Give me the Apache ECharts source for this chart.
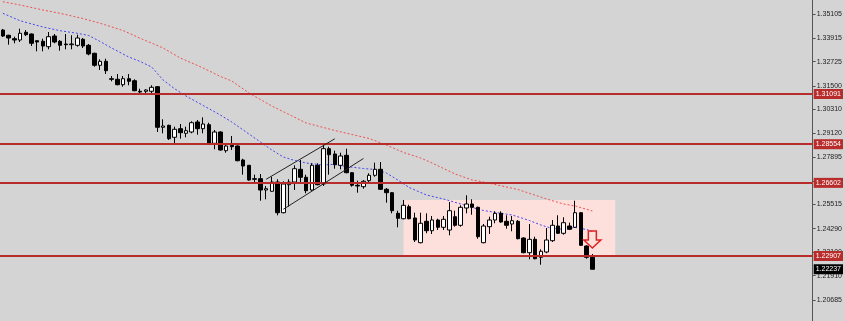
<!DOCTYPE html>
<html>
<head>
<meta charset="utf-8">
<script src="https://cdn.jsdelivr.net/npm/echarts@6/dist/echarts.min.js"></script>
<style>
html,body{margin:0;padding:0;background:#d4d4d4;}
#chart{width:845px;height:321px;}
</style>
</head>
<body>
<div id="chart"></div>
<script>
// ---- data ----
const opens = [1.34324,1.34057,1.33885,1.33819,1.34208,1.34122,1.33784,1.33754,1.33481,1.34021,
1.33754,1.33617,1.33582,1.33551,1.33855,1.33551,1.33147,1.32541,1.32743,1.31864,
1.31834,1.31561,1.31864,1.31763,1.31228,1.31228,1.31228,1.3146,1.29409,1.2951,
1.28904,1.29338,1.29106,1.29171,1.29677,1.29338,1.2954,1.286,1.29171,1.28227,
1.285,1.28464,1.27757,1.27489,1.26812,1.26812,1.26241,1.26176,1.26645,1.25094,
1.26509,1.26645,1.27287,1.26883,1.26241,1.27489,1.26544,1.28328,1.2806,1.27489,
1.27994,1.27115,1.26479,1.26408,1.26711,1.26984,1.27287,1.26277,1.26105,1.25064,
1.24791,1.25398,1.24827,1.23579,1.2466,1.24185,1.24726,1.24357,1.2422,1.24892,
1.24458,1.25332,1.25534,1.25367,1.23579,1.24387,1.24726,1.25064,1.2466,1.24524,
1.2466,1.23816,1.23074,1.2375,1.22841,1.23109,1.2368,1.24422,1.24054,1.24422,
1.24357,1.25094,1.23412,1.22841];
const closes = [1.34021,1.3392,1.33819,1.34158,1.34087,1.33652,1.33718,1.33516,1.33986,1.33718,
1.33551,1.33582,1.33617,1.3392,1.33516,1.33112,1.32541,1.32743,1.32268,1.31834,
1.31561,1.31864,1.31733,1.31258,1.31192,1.31293,1.3143,1.29409,1.29474,1.28833,
1.29308,1.29136,1.29237,1.29641,1.29338,1.29576,1.28565,1.29171,1.28262,1.28464,
1.28429,1.27721,1.27454,1.26746,1.26782,1.26241,1.26307,1.26645,1.25094,1.26544,
1.26645,1.27317,1.26883,1.26206,1.27489,1.26509,1.28328,1.28025,1.27519,1.27959,
1.27115,1.26479,1.26443,1.26681,1.26984,1.27287,1.26277,1.26105,1.25196,1.24812,
1.25468,1.24791,1.23715,1.24559,1.24185,1.24726,1.24357,1.24761,1.25196,1.24458,
1.25367,1.25534,1.25367,1.23882,1.24422,1.24726,1.25064,1.24625,1.24458,1.2469,
1.23781,1.23074,1.2375,1.22771,1.23144,1.23715,1.24458,1.24054,1.24589,1.24256,
1.25094,1.23447,1.22841,1.22237];
const lows = [1.33971,1.33582,1.33652,1.33718,1.34021,1.33516,1.33248,1.33248,1.33349,1.33652,
1.33279,1.33349,1.33349,1.33481,1.33415,1.33046,1.3247,1.32304,1.32102,1.31733,
1.31531,1.3146,1.31531,1.31228,1.31091,1.31056,1.31126,1.29171,1.29106,1.28767,
1.28565,1.28833,1.28904,1.29106,1.29035,1.29106,1.2853,1.28297,1.28227,1.28126,
1.28262,1.27691,1.27014,1.26711,1.26645,1.25701,1.25771,1.26156,1.24963,1.25064,
1.25398,1.26241,1.26544,1.26074,1.26206,1.26479,1.26443,1.27014,1.27317,1.27287,
1.27085,1.26408,1.26105,1.26307,1.2661,1.26913,1.26241,1.256,1.25064,1.24357,
1.24761,1.24761,1.23614,1.23548,1.24054,1.24018,1.2422,1.2422,1.23953,1.24387,
1.24387,1.25064,1.24993,1.23781,1.23548,1.24018,1.24559,1.24589,1.24286,1.24155,
1.2375,1.23043,1.2274,1.2274,1.22467,1.23043,1.23614,1.24018,1.23983,1.2422,
1.24321,1.23412,1.22771,1.22237];
const highs = [1.34375,1.34087,1.33986,1.3439,1.34324,1.34147,1.33794,1.33885,1.34223,1.34122,
1.33819,1.34122,1.34057,1.34087,1.3392,1.33617,1.33178,1.32844,1.32874,1.32,
1.32102,1.32,1.32102,1.31834,1.31359,1.31329,1.31531,1.31495,1.29813,1.2954,
1.29439,1.29576,1.29439,1.29712,1.29778,1.29914,1.29641,1.29272,1.29207,1.286,
1.28969,1.285,1.27822,1.27505,1.27014,1.2705,1.26443,1.26913,1.26782,1.26681,
1.26782,1.27489,1.27757,1.27014,1.2759,1.2759,1.2853,1.28429,1.28227,1.28126,
1.28328,1.27151,1.26711,1.26746,1.27085,1.2762,1.27656,1.26342,1.2614,1.25196,
1.25736,1.25499,1.25094,1.25094,1.25064,1.24928,1.24791,1.24928,1.25635,1.25196,
1.25468,1.25973,1.25771,1.25398,1.24524,1.24892,1.25165,1.25165,1.24963,1.24928,
1.24726,1.23852,1.24524,1.23882,1.23245,1.24321,1.24726,1.24963,1.24862,1.24589,
1.25701,1.2513,1.23447,1.23008];

// moving averages: bar index and value
const blueMaIdx = [0,3,7,10,13,15,17,19,22,24,26,28,30,32,35,38,40,43,45,47,49,51,53,56,58,60,63,65,67,69,71,74,77,80,82,84,87,89,92,94,96,98,100,102,103];
const blueMaVal = [1.35168,1.34794,1.34476,1.34289,1.34158,1.34047,1.33743,1.33415,1.3296,1.32733,1.32455,1.31798,1.31359,1.3099,1.3051,1.3003,1.29677,1.2907,1.28666,1.28262,1.27908,1.27732,1.27605,1.27504,1.2754,1.27428,1.27327,1.27277,1.271,1.26746,1.26367,1.25989,1.25787,1.25534,1.25357,1.25206,1.25064,1.24978,1.247,1.24473,1.24296,1.24256,1.24347,1.24246,1.24145];
const redMaIdx = [0,3,7,10,14,17,21,24,28,31,35,38,40,43,47,50,53,58,64,67,70,73,75,79,82,84,90,95,98,100,103];
const redMaVal = [1.35754,1.35587,1.35335,1.35168,1.34905,1.34663,1.34299,1.33905,1.33415,1.3291,1.32405,1.31975,1.31748,1.31142,1.30485,1.30055,1.29626,1.29247,1.28843,1.28515,1.28136,1.27858,1.27605,1.2705,1.26746,1.26645,1.26266,1.25787,1.25534,1.25433,1.2518];

// horizontal levels and price labels
const levels = [1.31091, 1.28554, 1.26602, 1.22907];
const currentPrice = 1.22237;
const tickLabels = [1.35105,1.33915,1.32725,1.31500,1.30310,1.29120,1.27895,1.26705,1.25515,1.24290,1.23100,1.21910,1.20685];

// channel lines [barIndex, price]
const channelUpper = [[46, 1.26782], [58, 1.28828]];
const channelLower = [[49, 1.25266], [63, 1.27832]];
// range box [barIndex, price]
const boxFrom = [70, 1.25736];
const boxTo = [107, 1.22907];
// arrow marker
const arrowAt = [103, 1.23741];

const totalSlots = 142;
const categories = Array.from({length: totalSlots}, (_, i) => String(i));
const yMin = 1.19623, yMax = 1.3584;

const candleData = opens.map((o, i) => [o, closes[i], lows[i], highs[i]]);
const bluePairs = blueMaIdx.map((x, i) => [x, blueMaVal[i]]);
const redPairs = redMaIdx.map((x, i) => [x, redMaVal[i]]);

const chart = echarts.init(document.getElementById('chart'), null, {renderer: 'canvas'});
const fontFam = '"Liberation Sans", Arial, sans-serif';
const lvlLabel = (txt, bg) => ({
  show: true, position: 'end', distance: 1, formatter: () => txt,
  backgroundColor: bg, color: '#ffffff', fontSize: 7, fontFamily: fontFam,
  padding: [2, 2, 1, 2]
});

chart.setOption({
  animation: false,
  backgroundColor: '#d4d4d4',
  grid: {left: 0, right: 32, top: 0, bottom: 0, containLabel: false},
  xAxis: {
    type: 'category', data: categories, boundaryGap: true, show: false
  },
  yAxis: {
    type: 'value', position: 'right', min: yMin, max: yMax, scale: true,
    axisLine: {show: true, lineStyle: {color: '#555', width: 1}},
    axisTick: {show: true, length: 3, lineStyle: {color: '#555'}, customValues: tickLabels},
    axisLabel: {
      show: true, customValues: tickLabels, fontSize: 7, color: '#222', margin: 4,
      fontFamily: fontFam, formatter: v => Number(v).toFixed(5)
    },
    splitLine: {show: false}
  },
  series: [
    {
      name: 'box', type: 'line', data: [], z: 1,
      markArea: {
        silent: true,
        itemStyle: {color: '#fde0dc'},
        data: [[{coord: boxFrom}, {coord: boxTo}]]
      }
    },
    {
      name: 'maSlow', type: 'line', data: redPairs, showSymbol: false, z: 2,
      lineStyle: {color: '#f05050', width: 1, type: [2, 2]}
    },
    {
      name: 'maFast', type: 'line', data: bluePairs, showSymbol: false, z: 2,
      lineStyle: {color: '#4545f0', width: 1, type: [2, 2]}
    },
    {
      name: 'price', type: 'candlestick', data: candleData, barWidth: 4, z: 3,
      itemStyle: {color: '#ffffff', color0: '#000000', borderColor: '#000000', borderColor0: '#000000', borderWidth: 1}
    },
    {
      name: 'annotations', type: 'line', data: [], z: 4,
      markLine: {
        silent: true, symbol: 'none', animation: false, precision: 5,
        data: [
          ...levels.map(v => ({
            yAxis: v,
            lineStyle: {color: '#b82c2c', width: 2, type: 'solid'},
            label: lvlLabel(v.toFixed(5), '#b82c2c')
          })),
          {
            yAxis: currentPrice,
            lineStyle: {color: 'rgba(0,0,0,0)', width: 1, type: 'solid'},
            label: lvlLabel(currentPrice.toFixed(5), '#000000')
          },
          [{coord: channelUpper[0], lineStyle: {color: '#222', width: 1, type: 'solid'}, label: {show: false}}, {coord: channelUpper[1]}],
          [{coord: channelLower[0], lineStyle: {color: '#222', width: 1, type: 'solid'}, label: {show: false}}, {coord: channelLower[1]}]
        ]
      },
      markPoint: {
        silent: true,
        data: [{
          coord: arrowAt,
          symbol: 'path://M4.5,0 L12.5,0 L12.5,9 L17,9 L8.5,17 L0,9 L4.5,9 Z',
          symbolSize: [17, 17],
          itemStyle: {color: 'rgba(0,0,0,0)', borderColor: '#e02020', borderWidth: 1.5},
          label: {show: false}
        }]
      }
    }
  ]
});
</script>
</body>
</html>
